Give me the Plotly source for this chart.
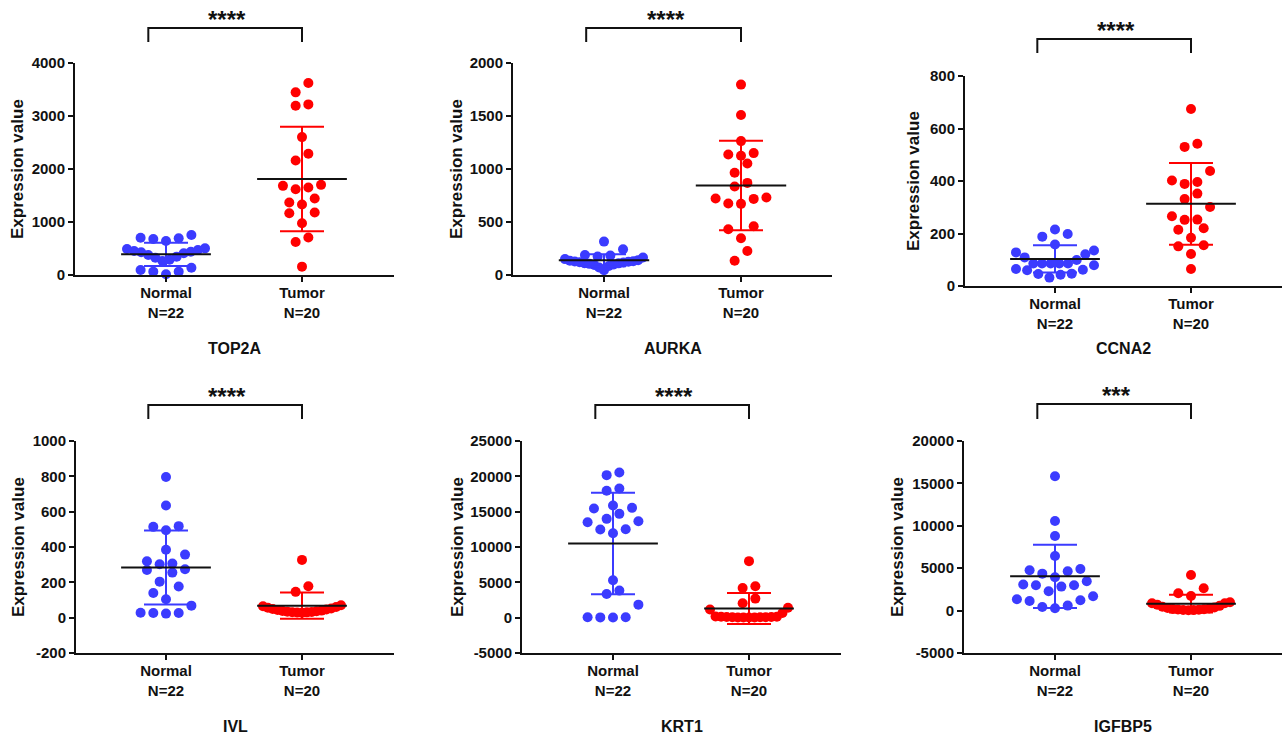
import plotly.graph_objects as go

W, H = 1282, 737

# ---------------- data ----------------
genes = ["TOP2A", "AURKA", "CCNA2", "IVL", "KRT1", "IGFBP5"]
group_names = ["Normal", "Tumor"]
group_sizes = [22, 20]
significance = ["****", "****", "****", "****", "****", "***"]

top2a_normal = [13, 63, 63, 94, 138, 264, 289, 327, 346, 377, 409, 428, 440, 453, 472, 491, 503, 642, 679, 692, 704, 755]
top2a_tumor = [158, 624, 706, 976, 1165, 1178, 1329, 1367, 1443, 1619, 1650, 1682, 1701, 2161, 2287, 2602, 3194, 3219, 3446, 3622]

aurka_normal = [45, 70, 85, 95, 100, 105, 110, 112, 118, 120, 125, 128, 130, 135, 140, 150, 165, 175, 183, 189, 242, 315]
aurka_tumor = [135, 227, 347, 432, 460, 671, 674, 718, 721, 731, 835, 869, 964, 1052, 1125, 1137, 1150, 1263, 1509, 1796]

ccna2_normal = [32, 43, 46, 47, 60, 62, 65, 79, 86, 86, 86, 86, 86, 99, 109, 121, 128, 135, 158, 188, 198, 215]
ccna2_tumor = [65, 122, 151, 155, 184, 214, 220, 252, 253, 266, 301, 331, 352, 389, 396, 402, 438, 530, 542, 674]

ivl_normal = [23, 26, 26, 28, 68, 104, 140, 176, 204, 255, 270, 274, 302, 306, 319, 357, 384, 495, 514, 518, 635, 796]
ivl_tumor = [28, 29, 30, 31, 32, 34, 36, 38, 40, 43, 46, 49, 52, 56, 60, 65, 70, 146, 178, 327]

krt1_normal = [30, 40, 50, 60, 1840, 3350, 3830, 5290, 11950, 12470, 12520, 13510, 13650, 13980, 14690, 15450, 15540, 15870, 17950, 18280, 20170, 20550]
krt1_tumor = [20, 25, 30, 40, 50, 60, 75, 90, 105, 120, 140, 160, 650, 1150, 1400, 2050, 2700, 4200, 4450, 8000]

igfbp5_normal = [275, 430, 590, 1140, 1220, 1340, 1690, 2280, 2830, 2990, 2990, 3070, 3460, 3930, 4360, 4640, 4750, 4910, 6440, 8800, 10570, 15840]
igfbp5_tumor = [50, 60, 80, 100, 130, 160, 200, 250, 300, 380, 460, 560, 700, 860, 860, 980, 1720, 2040, 2630, 4200]

normal_values = [top2a_normal, aurka_normal, ccna2_normal, ivl_normal, krt1_normal, igfbp5_normal]
tumor_values = [top2a_tumor, aurka_tumor, ccna2_tumor, ivl_tumor, krt1_tumor, igfbp5_tumor]

normal_mean = [390, 139, 103, 284, 10500, 4040]
normal_sd = [220, 57, 52, 210, 7180, 3740]
tumor_mean = [1810, 844, 313, 68, 1300, 820]
tumor_sd = [985, 422, 156, 74, 2190, 1050]

y_ticks = [
    [0, 1000, 2000, 3000, 4000],
    [0, 500, 1000, 1500, 2000],
    [0, 200, 400, 600, 800],
    [-200, 0, 200, 400, 600, 800, 1000],
    [-5000, 0, 5000, 10000, 15000, 20000, 25000],
    [-5000, 0, 5000, 10000, 15000, 20000],
]

# ---------------- layout (pixel boxes of each panel) ----------------
PANELS = [
    dict(x0=75, x1=394, yt=63, yb=275, c0=166, c1=302, bt=28, bb=42, yt_x=18, title_y=348),
    dict(x0=513, x1=832, yt=63, yb=275, c0=604, c1=741, bt=28, bb=42, yt_x=457, title_y=348),
    dict(x0=965, x1=1282, yt=76, yb=286, c0=1055, c1=1191, bt=39, bb=53, yt_x=913, title_y=348),
    dict(x0=76, x1=394, yt=441, yb=653, c0=166, c1=302, bt=405, bb=419, yt_x=18, title_y=726),
    dict(x0=522, x1=841, yt=441, yb=653, c0=613, c1=749, bt=405, bb=419, yt_x=457, title_y=726),
    dict(x0=964, x1=1282, yt=441, yb=653, c0=1055, c1=1191, bt=404, bb=419, yt_x=897, title_y=726),
]

NORMAL_COLOR = "#3B3BFF"
TUMOR_COLOR = "#FF0000"
INK = "#111111"
FONT = "Arial, 'Liberation Sans', sans-serif"


def swarm_offsets(values, px_per_unit, row_px=13.0, step=12.7, max_width=78.0):
    """GraphPad-like scatter layout: rows of nearby values, centred, lowest in the middle."""
    order = sorted(range(len(values)), key=lambda i: values[i])
    rows, cur, start = [], [], None
    for i in order:
        py = values[i] * px_per_unit
        if cur and py - start < row_px:
            cur.append(i)
        else:
            if cur:
                rows.append(cur)
            cur, start = [i], py
    if cur:
        rows.append(cur)
    offsets = [0.0] * len(values)
    for row in rows:
        k = len(row)
        sp = step if k <= 1 else min(step, max_width / (k - 1))
        slots = sorted([(j - (k - 1) / 2) * sp for j in range(k)], key=lambda s: (abs(s), s))
        for idx, s in zip(row, slots):
            offsets[idx] = s
    return offsets


fig = go.Figure()
annotations = []
shapes = []
layout_axes = {}

for p, box in enumerate(PANELS):
    n = p + 1
    xa = "x" if n == 1 else f"x{n}"
    ya = "y" if n == 1 else f"y{n}"
    xkey = "xaxis" if n == 1 else f"xaxis{n}"
    ykey = "yaxis" if n == 1 else f"yaxis{n}"

    unit_px = box["c1"] - box["c0"]
    xr = [(box["x0"] - box["c0"]) / unit_px, (box["x1"] - box["c0"]) / unit_px]
    ticks = y_ticks[p]
    yr = [min(ticks), max(ticks)]
    px_per_y = (box["yb"] - box["yt"]) / (yr[1] - yr[0])

    groups = [
        (0, normal_values[p], normal_mean[p], normal_sd[p], NORMAL_COLOR),
        (1, tumor_values[p], tumor_mean[p], tumor_sd[p], TUMOR_COLOR),
    ]
    # points
    for g, vals, m, sd, col in groups:
        offs = swarm_offsets(vals, px_per_y)
        fig.add_trace(go.Scatter(
            x=[g + o / unit_px for o in offs], y=vals, mode="markers",
            marker=dict(size=10, color=col, line=dict(width=0)),
            xaxis=xa, yaxis=ya, cliponaxis=False, showlegend=False, hoverinfo="y",
        ))
    # SD error bars
    for g, vals, m, sd, col in groups:
        fig.add_trace(go.Scatter(
            x=[g], y=[m], mode="markers", marker=dict(size=1, color="rgba(0,0,0,0)"),
            error_y=dict(type="data", array=[sd], visible=True, color=col, thickness=2, width=22),
            xaxis=xa, yaxis=ya, cliponaxis=False, showlegend=False, hoverinfo="skip",
        ))
    # mean lines
    for g, vals, m, sd, col in groups:
        fig.add_trace(go.Scatter(
            x=[g - 0.33, g + 0.33], y=[m, m], mode="lines",
            line=dict(color=INK, width=2),
            xaxis=xa, yaxis=ya, cliponaxis=False, showlegend=False, hoverinfo="skip",
        ))

    layout_axes[xkey] = dict(
        domain=[box["x0"] / W, box["x1"] / W], range=xr, anchor=ya,
        tickmode="array", tickvals=[0, 1],
        ticktext=[f"{group_names[i]}<br>N={group_sizes[i]}" for i in range(2)],
        showline=True, linecolor=INK, linewidth=2, ticks="outside", ticklen=5,
        tickwidth=2, tickcolor=INK, showgrid=False, zeroline=False,
        tickfont=dict(family=FONT, size=15, color=INK, weight="bold"),
        ticklabelstandoff=-2,
        fixedrange=True, automargin=False,
    )
    layout_axes[ykey] = dict(
        domain=[1 - box["yb"] / H, 1 - box["yt"] / H], range=yr, anchor=xa,
        tickmode="array", tickvals=ticks, ticktext=[str(t) for t in ticks],
        showline=True, linecolor=INK, linewidth=2, ticks="outside", ticklen=5,
        tickwidth=2, tickcolor=INK, showgrid=False, zeroline=False,
        tickfont=dict(family=FONT, size=15, color=INK, weight="bold"),
        fixedrange=True, automargin=False,
    )

    # significance bracket
    xl, xrr = -0.13, 1.0
    ybt, ybb = 1 - box["bt"] / H, 1 - box["bb"] / H
    shapes.append(dict(
        type="path", xref=xa, yref="paper",
        path=f"M {xl} {ybb} L {xl} {ybt} L {xrr} {ybt} L {xrr} {ybb}",
        line=dict(color=INK, width=2),
    ))
    annotations.append(dict(
        text=significance[p], xref=xa, yref="paper", x=(xl + xrr) / 2 + 0.015,
        y=1 - (box["bt"] + 7) / H, xanchor="center", yanchor="bottom", showarrow=False,
        font=dict(family=FONT, size=24, color=INK, weight="bold"),
    ))
    # gene title
    annotations.append(dict(
        text=genes[p], xref="paper", yref="paper", x=(box["x0"] + box["x1"]) / 2 / W,
        y=1 - box["title_y"] / H, xanchor="center", yanchor="middle", showarrow=False,
        font=dict(family=FONT, size=16, color=INK, weight="bold"),
    ))
    # y title
    annotations.append(dict(
        text="Expression value", xref="paper", yref="paper", x=box["yt_x"] / W,
        y=1 - (box["yt"] + box["yb"]) / 2 / H, xanchor="center", yanchor="middle",
        textangle=-90, showarrow=False,
        font=dict(family=FONT, size=17, color=INK, weight="bold"),
    ))

fig.update_layout(
    width=W, height=H, autosize=False,
    margin=dict(l=0, r=0, t=0, b=0, pad=0, autoexpand=False),
    paper_bgcolor="white", plot_bgcolor="white",
    showlegend=False, annotations=annotations, shapes=shapes,
    font=dict(family=FONT, color=INK),
    **layout_axes,
)

fig.write_html(
    "out.html",
    config={"displayModeBar": False},
    post_script="document.body.style.margin='0';document.body.style.padding='0';",
)
